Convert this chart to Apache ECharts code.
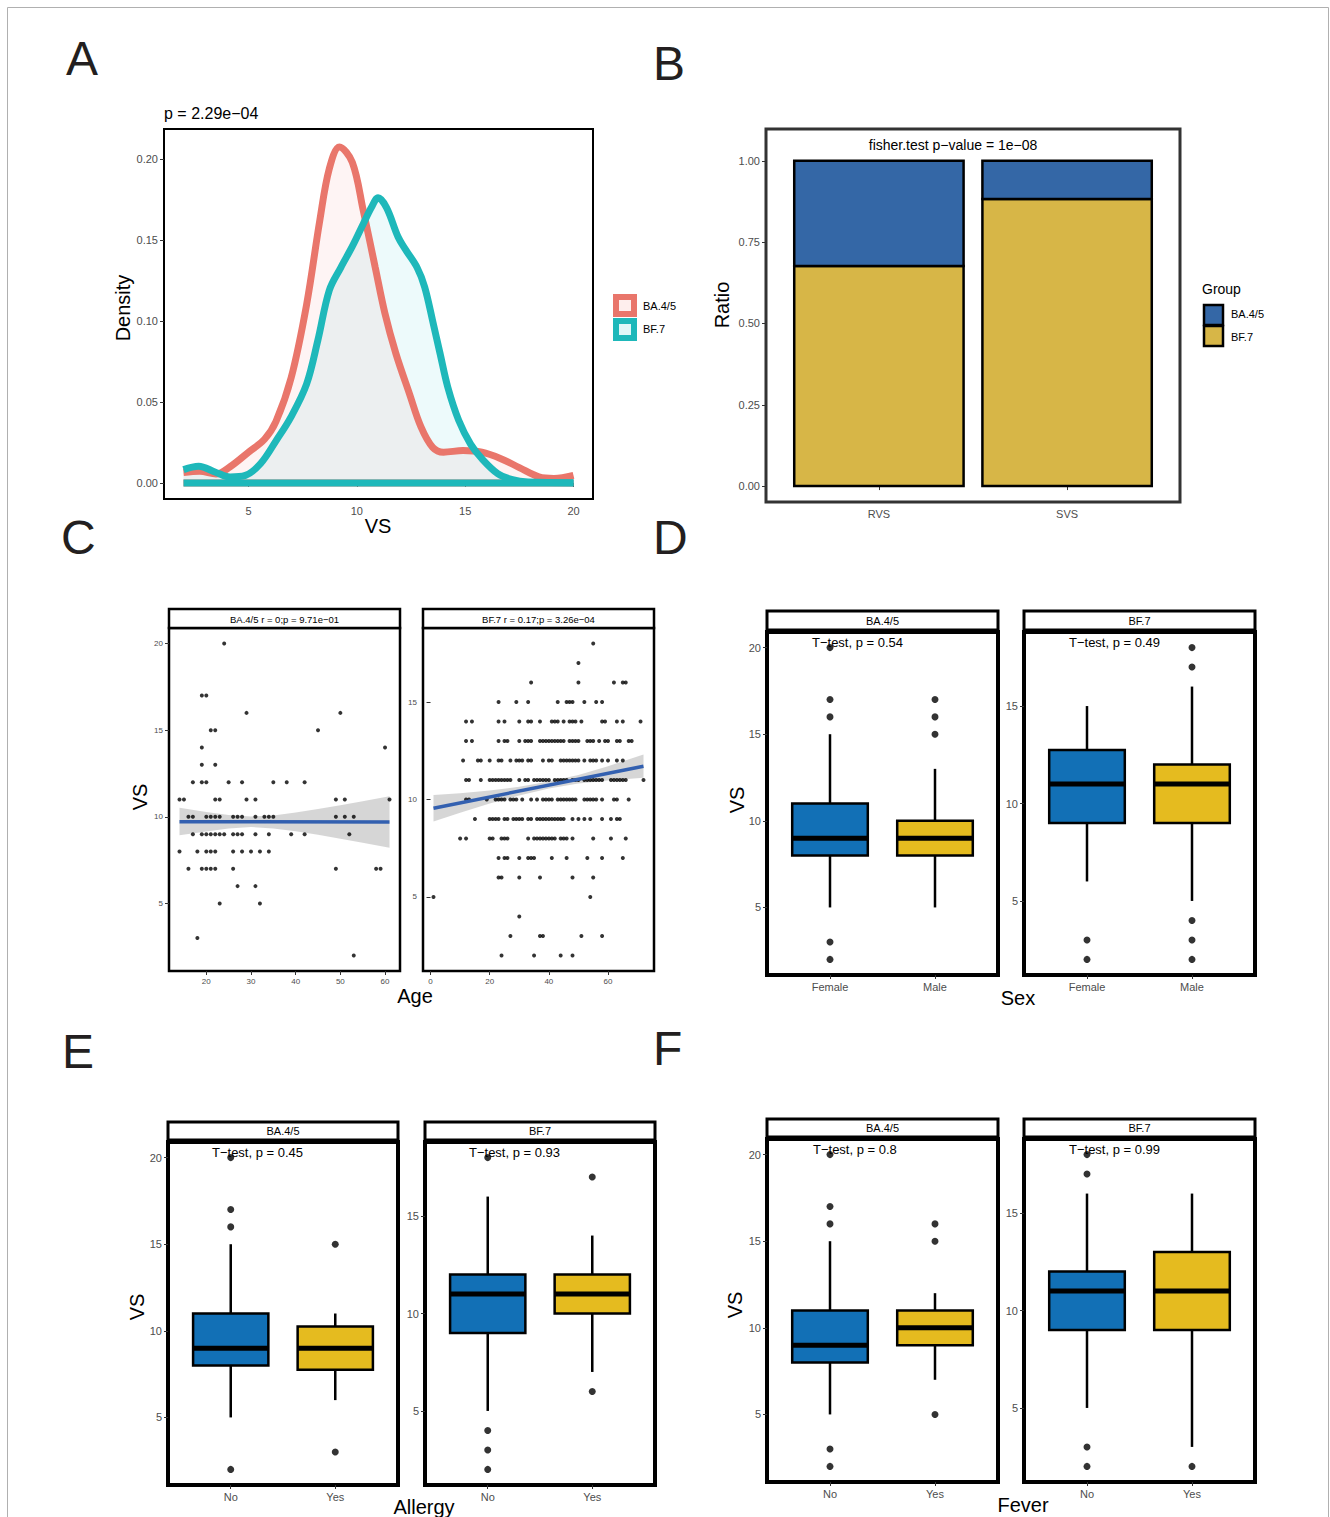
<!DOCTYPE html>
<html>
<head>
<meta charset="utf-8">
<title>VS figure</title>
<script src="https://cdn.jsdelivr.net/npm/echarts@6/dist/echarts.min.js"></script>
<style>
  html, body { margin: 0; padding: 0; background: #fff; }
  #fig { width: 1330px; height: 1517px; }
</style>
</head>
<body>
<div id="fig"></div>
<script>
const FONT = '"Liberation Sans", Arial, Helvetica, sans-serif';
const RED = '#e9766b', TEAL = '#1eb8ba';
const BOX_BLUE = '#1270b6', BOX_GOLD = '#e5bb1f';
const BAR_BLUE = '#3467a6', BAR_GOLD = '#d7b647';

// ---------- A: density of VS ----------
const densXBA = [2, 2.75, 3.5, 4.15, 5, 5.74, 6.27, 6.97, 7.68, 8.29, 8.73, 9.2, 9.79, 10.3, 10.85, 11.3, 11.8, 12.43, 12.96, 13.5, 14.0, 14.9, 15.77, 16.65, 17.5, 18.4, 19.1, 20];
const densYBA = [0.0065, 0.0072, 0.0055, 0.010, 0.019, 0.027, 0.038, 0.065, 0.11, 0.162, 0.194, 0.2074, 0.198, 0.168, 0.133, 0.1045, 0.080, 0.055, 0.0346, 0.022, 0.019, 0.020, 0.019, 0.015, 0.0095, 0.0038, 0.0028, 0.0047];
const densXBF = [2, 2.7, 3.45, 4.15, 4.86, 5.56, 6.27, 6.97, 7.68, 8.2, 8.73, 9.26, 9.79, 10.3, 10.67, 10.98, 11.37, 11.9, 12.25, 12.78, 13.13, 13.5, 13.84, 14.2, 14.7, 15.25, 15.77, 16.5, 17.18, 17.9, 20];
const densYBF = [0.0082, 0.0103, 0.0068, 0.0037, 0.0047, 0.012, 0.026, 0.041, 0.061, 0.088, 0.119, 0.133, 0.146, 0.160, 0.170, 0.176, 0.170, 0.152, 0.144, 0.133, 0.121, 0.100, 0.080, 0.059, 0.0387, 0.024, 0.015, 0.0058, 0.002, 0.0006, 0.0002];
const densTicksX = [5, 10, 15, 20];
const densTicksY = [0, 0.05, 0.1, 0.15, 0.2];

// ---------- B: ratio of groups ----------
const ratioCats = ['RVS', 'SVS'];
const ratioBF7 = [0.677, 0.883];
const ratioBA45 = [0.323, 0.117];
const ratioTicks = [0, 0.25, 0.5, 0.75, 1];

// ---------- C: VS against age ----------
const vsLevelsBA = [20, 17, 16, 15, 14, 13, 12, 11, 10, 9, 8, 7, 6, 5, 3, 2];
const agesBA = [
  [24], [19, 20], [29, 50], [21, 22, 45], [19, 60], [19, 22],
  [17, 19, 20, 25, 28, 35, 38, 42],
  [14, 15, 22, 23, 29, 31, 49, 51, 61],
  [16, 17, 20, 21, 22, 23, 26, 27, 28, 31, 33, 34, 35, 49, 51, 53],
  [17, 19, 20, 21, 22, 23, 24, 26, 27, 28, 31, 34, 39, 42, 52],
  [14, 18, 20, 21, 22, 26, 28, 30, 32, 34],
  [16, 19, 20, 21, 22, 26, 49, 58, 59],
  [27, 31], [23, 32], [18], [53]
];
const vsLevelsBF = [18, 17, 16, 15, 14, 13, 12, 11, 10, 9, 8, 7, 6, 5, 4, 3, 2];
const agesBF = [
  [55], [50], [34, 50, 62, 65, 66],
  [23, 29, 33, 43, 46, 47, 48, 52, 56, 58],
  [12, 14, 23, 25, 30, 33, 34, 37, 41, 42, 43, 45, 47, 48, 49, 51, 58, 59, 63, 65, 71],
  [12, 14, 23, 25, 26, 30, 32, 33, 34, 37, 38, 39, 40, 41, 42, 43, 44, 45, 47, 48, 49, 50, 53, 54, 55, 57, 59, 60, 63, 64, 67, 68],
  [11, 16, 17, 20, 23, 24, 27, 29, 30, 31, 33, 34, 38, 40, 41, 44, 45, 46, 47, 48, 49, 50, 52, 54, 55, 56, 58, 60, 63, 65],
  [12, 13, 17, 20, 21, 22, 23, 24, 25, 26, 27, 30, 32, 33, 35, 36, 37, 38, 39, 40, 42, 43, 44, 45, 46, 48, 49, 50, 52, 53, 54, 55, 56, 57, 58, 61, 62, 63, 64, 65, 66, 72],
  [12, 13, 19, 22, 23, 24, 25, 27, 28, 29, 31, 34, 36, 38, 39, 40, 41, 43, 44, 45, 46, 47, 48, 49, 52, 53, 54, 55, 56, 58, 62, 63, 67],
  [15, 20, 21, 22, 23, 25, 26, 28, 29, 30, 31, 33, 34, 36, 37, 38, 39, 40, 41, 42, 43, 44, 45, 48, 50, 52, 54, 58, 61, 63, 64],
  [10, 12, 20, 21, 24, 25, 26, 33, 35, 36, 37, 38, 39, 40, 41, 42, 44, 45, 46, 48, 55, 61, 66],
  [23, 25, 26, 30, 33, 34, 35, 41, 46, 53, 58, 65],
  [23, 24, 30, 37, 48, 55],
  [1, 54], [30], [27, 37, 38, 51, 58], [24, 35, 44, 48]
];
const fitAgeBA = [14, 61], fitVsBA = [9.72, 9.70];
const bandAgeBA = [14, 20, 25, 30, 35, 40, 45, 50, 55, 61];
const bandLoBA = [8.93, 9.15, 9.32, 9.41, 9.33, 9.16, 8.96, 8.74, 8.51, 8.22];
const bandHiBA = [10.52, 10.28, 10.10, 10.02, 10.08, 10.25, 10.45, 10.67, 10.90, 11.19];
const fitAgeBF = [1, 72], fitVsBF = [9.55, 11.71];
const bandAgeBF = [1, 10, 20, 30, 40, 50, 60, 72];
const bandLoBF = [8.87, 9.32, 9.80, 10.21, 10.56, 10.82, 10.97, 11.11];
const bandHiBF = [10.23, 10.32, 10.46, 10.65, 10.92, 11.26, 11.71, 12.31];
const ageTicksBA = [20, 30, 40, 50, 60];
const ageTicksBF = [0, 20, 40, 60];

// ---------- D/E/F: boxplots [min, q1, median, q3, max] ----------
const sexCats = ['Female', 'Male'];
const sexStatsBA = [[5, 8, 9, 11, 15], [5, 8, 9, 10, 13]];
const sexOutBA = [[20, 17, 16, 3, 2], [17, 16, 15]];
const sexStatsBF = [[6, 9, 11, 12.75, 15], [5, 9, 11, 12, 16]];
const sexOutBF = [[3, 2], [18, 17, 4, 3, 2]];
const allergyCats = ['No', 'Yes'];
const allergyStatsBA = [[5, 8, 9, 11, 15], [6, 7.75, 9, 10.25, 11]];
const allergyOutBA = [[20, 17, 16, 2], [15, 3]];
const allergyStatsBF = [[5, 9, 11, 12, 16], [7, 10, 11, 12, 14]];
const allergyOutBF = [[18, 4, 3, 2], [17, 6]];
const feverCats = ['No', 'Yes'];
const feverStatsBA = [[5, 8, 9, 11, 15], [7, 9, 10, 11, 12]];
const feverOutBA = [[20, 17, 16, 3, 2], [16, 15, 5]];
const feverStatsBF = [[5, 9, 11, 12, 16], [3, 9, 11, 13, 16]];
const feverOutBF = [[18, 17, 3, 2], [2]];
const vsTicksBA = [5, 10, 15, 20];
const vsTicksBF = [5, 10, 15];

// ---------- helpers ----------
const zip = (xs, ys) => xs.map((x, i) => [x, ys[i]]);

function grid(left, top, width, height, bw, bc) {
  return { left, top, width, height, show: true, borderColor: bc || '#000', borderWidth: bw, backgroundColor: 'transparent' };
}

function axis(gi, min, max, ticks, fontSize, fmt) {
  return {
    type: 'value', gridIndex: gi, min, max,
    splitLine: { show: false },
    axisLine: { show: false },
    axisTick: { show: true, length: 4, customValues: ticks, lineStyle: { color: '#333', width: 1 } },
    axisLabel: { customValues: ticks, fontSize, color: '#4d4d4d', fontFamily: FONT, margin: 6, formatter: fmt }
  };
}

const catFmt = cats => v => cats[Math.round(v) - 1];

function levelPoints(levels, ages) {
  const pts = [];
  levels.forEach((v, i) => ages[i].forEach(a => pts.push([a, v])));
  return pts;
}

function bandSeries(gi, ages, lo, hi) {
  return {
    type: 'custom', xAxisIndex: gi, yAxisIndex: gi, silent: true,
    data: [[ages[0], lo[0]]],
    renderItem: (params, api) => {
      const pts = [];
      ages.forEach((a, i) => pts.push(api.coord([a, hi[i]])));
      for (let i = ages.length - 1; i >= 0; i--) pts.push(api.coord([ages[i], lo[i]]));
      return { type: 'polygon', shape: { points: pts }, style: { fill: 'rgba(153,153,153,0.4)' } };
    }
  };
}

// stacked bar: BF.7 from 0, BA.4/5 on top of it
function stackBarSeries(gi, bottom, top) {
  return {
    type: 'custom', xAxisIndex: gi, yAxisIndex: gi, silent: true,
    data: bottom.map((v, i) => [i + 1, v, v + top[i]]),
    encode: { x: 0, y: [1, 2] },
    renderItem: (params, api) => {
      const x = api.value(0);
      const half = api.size([0.45, 0])[0];
      const p0 = api.coord([x, 0]), p1 = api.coord([x, api.value(1)]), p2 = api.coord([x, api.value(2)]);
      return {
        type: 'group', children: [
          { type: 'rect', shape: { x: p0[0] - half, y: p1[1], width: 2 * half, height: p0[1] - p1[1] },
            style: { fill: BAR_GOLD, stroke: '#000', lineWidth: 2.5 } },
          { type: 'rect', shape: { x: p0[0] - half, y: p2[1], width: 2 * half, height: p1[1] - p2[1] },
            style: { fill: BAR_BLUE, stroke: '#000', lineWidth: 2.5 } }
        ]
      };
    }
  };
}

function boxSeries(gi, stats) {
  const fills = [BOX_BLUE, BOX_GOLD];
  return {
    type: 'custom', xAxisIndex: gi, yAxisIndex: gi, silent: true,
    data: stats.map((s, i) => [i + 1].concat(s)),
    encode: { x: 0, y: [1, 2, 3, 4, 5] },
    renderItem: (params, api) => {
      const x = api.value(0);
      const half = api.size([0.36, 0])[0];
      const c = v => api.coord([x, v]);
      const lo = c(api.value(1)), q1 = c(api.value(2)), md = c(api.value(3)), q3 = c(api.value(4)), hi = c(api.value(5));
      const line = { stroke: '#000', lineWidth: 2.5 };
      return {
        type: 'group', children: [
          { type: 'line', shape: { x1: lo[0], y1: lo[1], x2: q1[0], y2: q1[1] }, style: line },
          { type: 'line', shape: { x1: q3[0], y1: q3[1], x2: hi[0], y2: hi[1] }, style: line },
          { type: 'rect', shape: { x: q3[0] - half, y: q3[1], width: 2 * half, height: q1[1] - q3[1] },
            style: { fill: fills[params.dataIndex], stroke: '#000', lineWidth: 2.5 } },
          { type: 'line', shape: { x1: md[0] - half, y1: md[1], x2: md[0] + half, y2: md[1] }, style: { stroke: '#000', lineWidth: 5 } }
        ]
      };
    }
  };
}

function outlierSeries(gi, outs) {
  const pts = [];
  outs.forEach((list, i) => list.forEach(v => pts.push([i + 1, v])));
  return { type: 'scatter', xAxisIndex: gi, yAxisIndex: gi, data: pts, symbolSize: 7, itemStyle: { color: '#000' }, silent: true };
}

function txt(text, x, y, size, o) {
  o = o || {};
  return {
    type: 'text', x, y, rotation: o.rot || 0, z: 100, silent: true,
    style: { text, fontSize: size, fontFamily: FONT, fill: o.color || '#000',
      textAlign: o.align || 'center', textVerticalAlign: o.va || 'middle' }
  };
}

function rect(x, y, w, h, fill, stroke, lw) {
  return { type: 'rect', z: 90, silent: true, shape: { x, y, width: w, height: h }, style: { fill, stroke, lineWidth: lw } };
}

// ---------- layout ----------
const grids = [
  grid(164, 129, 429, 370, 2),          // A
  grid(766, 129, 414, 373, 3, '#333'),  // B
  grid(169, 628, 231, 343, 2.5),        // C left
  grid(423, 628, 231, 343, 2.5),        // C right
  grid(767, 632, 231, 343, 4),          // D left
  grid(1024, 632, 231, 343, 4),         // D right
  grid(168, 1142, 230, 343, 4),         // E left
  grid(425, 1142, 230, 343, 4),         // E right
  grid(767, 1139, 231, 343, 4),         // F left
  grid(1024, 1139, 231, 343, 4)         // F right
];

const xAxes = [
  axis(0, 1.1, 20.9, densTicksX, 11),
  axis(1, 0.4, 2.6, [1, 2], 11, catFmt(ratioCats)),
  axis(2, 11.65, 63.35, ageTicksBA, 8),
  axis(3, -2.55, 75.55, ageTicksBF, 8),
  axis(4, 0.4, 2.6, [1, 2], 11, catFmt(sexCats)),
  axis(5, 0.4, 2.6, [1, 2], 11, catFmt(sexCats)),
  axis(6, 0.4, 2.6, [1, 2], 11, catFmt(allergyCats)),
  axis(7, 0.4, 2.6, [1, 2], 11, catFmt(allergyCats)),
  axis(8, 0.4, 2.6, [1, 2], 11, catFmt(feverCats)),
  axis(9, 0.4, 2.6, [1, 2], 11, catFmt(feverCats))
];

const yAxes = [
  axis(0, -0.0099, 0.2185, densTicksY, 11, v => v.toFixed(2)),
  axis(1, -0.049, 1.098, ratioTicks, 11, v => v.toFixed(2)),
  axis(2, 1.1, 20.9, vsTicksBA, 8),
  axis(3, 1.2, 18.8, vsTicksBF, 8),
  axis(4, 1.1, 20.9, vsTicksBA, 11),
  axis(5, 1.2, 18.8, vsTicksBF, 11),
  axis(6, 1.1, 20.9, vsTicksBA, 11),
  axis(7, 1.2, 18.8, vsTicksBF, 11),
  axis(8, 1.1, 20.9, vsTicksBA, 11),
  axis(9, 1.2, 18.8, vsTicksBF, 11)
];

const series = [
  // A
  { type: 'line', xAxisIndex: 0, yAxisIndex: 0, data: zip(densXBA, densYBA), smooth: 0.35, showSymbol: false, silent: true,
    lineStyle: { color: RED, width: 7 }, itemStyle: { color: RED }, areaStyle: { color: 'rgba(248,118,109,0.11)' } },
  { type: 'line', xAxisIndex: 0, yAxisIndex: 0, data: [[densXBA[0], 0], [densXBA[densXBA.length - 1], 0]], showSymbol: false, silent: true,
    lineStyle: { color: RED, width: 7 } },
  { type: 'line', xAxisIndex: 0, yAxisIndex: 0, data: zip(densXBF, densYBF), smooth: 0.35, showSymbol: false, silent: true,
    lineStyle: { color: TEAL, width: 7 }, itemStyle: { color: TEAL }, areaStyle: { color: 'rgba(0,191,196,0.1)' } },
  { type: 'line', xAxisIndex: 0, yAxisIndex: 0, data: [[densXBF[0], 0], [densXBF[densXBF.length - 1], 0]], showSymbol: false, silent: true,
    lineStyle: { color: TEAL, width: 7 } },
  // B
  stackBarSeries(1, ratioBF7, ratioBA45),
  // C
  { type: 'scatter', xAxisIndex: 2, yAxisIndex: 2, data: levelPoints(vsLevelsBA, agesBA), symbolSize: 4, itemStyle: { color: '#000' }, silent: true },
  bandSeries(2, bandAgeBA, bandLoBA, bandHiBA),
  { type: 'line', xAxisIndex: 2, yAxisIndex: 2, data: zip(fitAgeBA, fitVsBA), showSymbol: false, silent: true, lineStyle: { color: '#3360b0', width: 3.5 } },
  { type: 'scatter', xAxisIndex: 3, yAxisIndex: 3, data: levelPoints(vsLevelsBF, agesBF), symbolSize: 4, itemStyle: { color: '#000' }, silent: true },
  bandSeries(3, bandAgeBF, bandLoBF, bandHiBF),
  { type: 'line', xAxisIndex: 3, yAxisIndex: 3, data: zip(fitAgeBF, fitVsBF), showSymbol: false, silent: true, lineStyle: { color: '#3360b0', width: 3.5 } },
  // D
  boxSeries(4, sexStatsBA), outlierSeries(4, sexOutBA),
  boxSeries(5, sexStatsBF), outlierSeries(5, sexOutBF),
  // E
  boxSeries(6, allergyStatsBA), outlierSeries(6, allergyOutBA),
  boxSeries(7, allergyStatsBF), outlierSeries(7, allergyOutBF),
  // F
  boxSeries(8, feverStatsBA), outlierSeries(8, feverOutBA),
  boxSeries(9, feverStatsBF), outlierSeries(9, feverOutBF)
];

const LETTER = '#231f20';
const graphics = [
  { type: 'rect', z: 1, silent: true, shape: { x: 7.5, y: 7.5, width: 1321, height: 1530 }, style: { fill: 'none', stroke: '#b0b0b0', lineWidth: 1 } },
  // panel letters
  txt('A', 66, 82, 48, { align: 'left', va: 'bottom', color: LETTER }),
  txt('B', 653, 87, 48, { align: 'left', va: 'bottom', color: LETTER }),
  txt('C', 61, 561, 48, { align: 'left', va: 'bottom', color: LETTER }),
  txt('D', 653, 561, 48, { align: 'left', va: 'bottom', color: LETTER }),
  txt('E', 62, 1075, 48, { align: 'left', va: 'bottom', color: LETTER }),
  txt('F', 653, 1072, 48, { align: 'left', va: 'bottom', color: LETTER }),
  // A texts
  txt('p = 2.29e\u221204', 164, 113, 16, { align: 'left' }),
  txt('Density', 123, 308, 20, { rot: Math.PI / 2 }),
  txt('VS', 378, 526, 20),
  rect(616, 297, 18, 17, 'rgba(248,118,109,0.12)', RED, 6),
  rect(616, 321, 18, 17, 'rgba(0,191,196,0.12)', TEAL, 6),
  txt('BA.4/5', 643, 306, 11, { align: 'left' }),
  txt('BF.7', 643, 329, 11, { align: 'left' }),
  // B texts
  txt('fisher.test p\u2212value = 1e\u221208', 953, 145, 14),
  txt('Ratio', 722, 305, 20, { rot: Math.PI / 2 }),
  txt('Group', 1202, 289, 14, { align: 'left' }),
  rect(1204, 305, 19, 20, BAR_BLUE, '#000', 2.5),
  rect(1204, 326, 19, 20, BAR_GOLD, '#000', 2.5),
  txt('BA.4/5', 1231, 314, 11, { align: 'left' }),
  txt('BF.7', 1231, 337, 11, { align: 'left' }),
  // C strips and titles
  rect(169, 609, 231, 19, '#fff', '#000', 2.5),
  rect(423, 609, 231, 19, '#fff', '#000', 2.5),
  txt('BA.4/5 r = 0;p = 9.71e\u221201', 284.5, 619, 9.5),
  txt('BF.7 r = 0.17;p = 3.26e\u221204', 538.5, 619, 9.5),
  txt('VS', 140, 797, 20, { rot: Math.PI / 2 }),
  txt('Age', 415, 996, 20),
  // D
  rect(767, 611, 231, 19, '#fff', '#000', 3),
  rect(1024, 611, 231, 19, '#fff', '#000', 3),
  txt('BA.4/5', 882.5, 621, 11),
  txt('BF.7', 1139.5, 621, 11),
  txt('T\u2212test, p = 0.54', 812, 642, 13, { align: 'left' }),
  txt('T\u2212test, p = 0.49', 1069, 642, 13, { align: 'left' }),
  txt('VS', 737, 800, 20, { rot: Math.PI / 2 }),
  txt('Sex', 1018, 998, 20),
  // E
  rect(168, 1122, 230, 18, '#fff', '#000', 3),
  rect(425, 1122, 230, 18, '#fff', '#000', 3),
  txt('BA.4/5', 283, 1131, 11),
  txt('BF.7', 540, 1131, 11),
  txt('T\u2212test, p = 0.45', 212, 1152, 13, { align: 'left' }),
  txt('T\u2212test, p = 0.93', 469, 1152, 13, { align: 'left' }),
  txt('VS', 137, 1307, 20, { rot: Math.PI / 2 }),
  txt('Allergy', 424, 1507, 20),
  // F
  rect(767, 1119, 231, 18, '#fff', '#000', 3),
  rect(1024, 1119, 231, 18, '#fff', '#000', 3),
  txt('BA.4/5', 882.5, 1128, 11),
  txt('BF.7', 1139.5, 1128, 11),
  txt('T\u2212test, p = 0.8', 813, 1149, 13, { align: 'left' }),
  txt('T\u2212test, p = 0.99', 1069, 1149, 13, { align: 'left' }),
  txt('VS', 735, 1305, 20, { rot: Math.PI / 2 }),
  txt('Fever', 1023, 1505, 20)
];

const chart = echarts.init(document.getElementById('fig'), null, { renderer: 'svg' });
chart.setOption({
  animation: false,
  backgroundColor: '#fff',
  textStyle: { fontFamily: FONT },
  grid: grids,
  xAxis: xAxes,
  yAxis: yAxes,
  series,
  graphic: { elements: graphics }
});
</script>
</body>
</html>
